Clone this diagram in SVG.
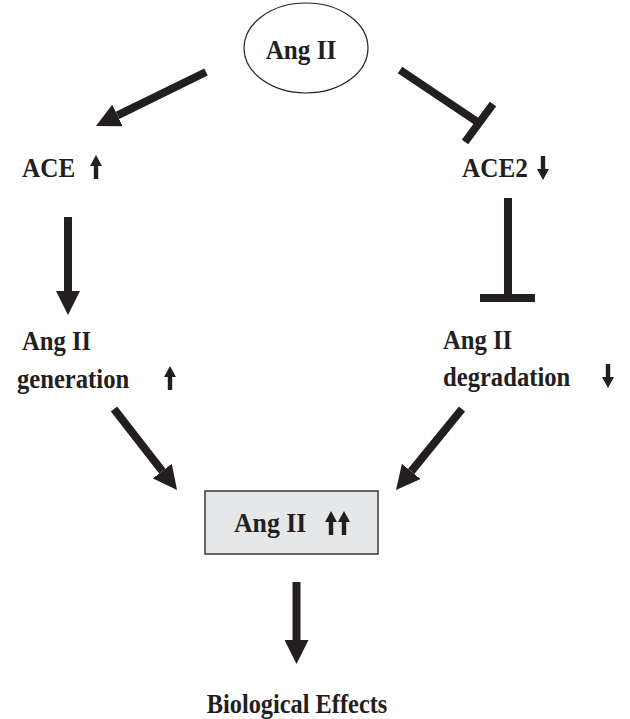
<svg xmlns="http://www.w3.org/2000/svg" width="630" height="719" viewBox="0 0 630 719">
<style>
text{font-family:"Liberation Serif","Times New Roman",serif;font-weight:bold;font-size:28px;fill:#231f20}
.shaft{stroke:#231f20;stroke-width:8;fill:none}
.ind{fill:#231f20}
</style>
<defs>
<marker id="ah" markerUnits="userSpaceOnUse" markerWidth="24" markerHeight="24" refX="0" refY="12" orient="auto">
<path d="M0,0 L24,12 L0,24 z" fill="#231f20"/>
</marker>
<path id="up" d="M0,0 L6,11 L2.2,11 L2.2,24 L-2.2,24 L-2.2,11 L-6,11 z"/>
</defs>
<g id="connectors">
<line class="shaft" x1="206" y1="72" x2="117.5" y2="115.4" marker-end="url(#ah)"/>
<line class="shaft" x1="400" y1="70" x2="479" y2="123"/>
<line class="shaft" x1="465" y1="142" x2="493" y2="104"/>
<line class="shaft" x1="68" y1="217" x2="68" y2="291" marker-end="url(#ah)"/>
<line class="shaft" x1="508" y1="198" x2="508" y2="298"/>
<line class="shaft" x1="480" y1="298" x2="535" y2="298"/>
<line class="shaft" x1="114" y1="409" x2="162.3" y2="471.1" marker-end="url(#ah)"/>
<line class="shaft" x1="462" y1="409" x2="411.2" y2="471.4" marker-end="url(#ah)"/>
<line class="shaft" x1="296.5" y1="582" x2="296.5" y2="640" marker-end="url(#ah)"/>
</g>
<g id="angii-top">
<ellipse cx="306" cy="48" rx="62" ry="45" fill="#fff" stroke="#231f20" stroke-width="1.2"/>
<text transform="translate(301,59) scale(0.9,1)" text-anchor="middle" font-size="30">Ang II</text>
</g>
<g id="ace">
<text transform="translate(22,177) scale(0.9,1)">ACE</text>
<use href="#up" class="ind" transform="translate(96,155)"/>
</g>
<g id="ace2">
<text transform="translate(462,177) scale(0.9,1)">ACE2</text>
<use href="#up" class="ind" transform="translate(543,180) scale(1,-1)"/>
</g>
<g id="angii-generation">
<text transform="translate(22,350) scale(0.88,1)">Ang II</text>
<text transform="translate(17,388) scale(0.88,1)">generation</text>
<use href="#up" class="ind" transform="translate(170,366)"/>
</g>
<g id="angii-degradation">
<text transform="translate(443,349) scale(0.88,1)">Ang II</text>
<text transform="translate(443,386) scale(0.88,1)">degradation</text>
<use href="#up" class="ind" transform="translate(608,388) scale(1,-1)"/>
</g>
<g id="angii-box">
<rect x="205" y="491" width="173" height="63" fill="#e6e7e8" stroke="#3a3a3a" stroke-width="1.5"/>
<text transform="translate(234,532) scale(0.92,1)">Ang II</text>
<use href="#up" class="ind" transform="translate(331,511)"/>
<use href="#up" class="ind" transform="translate(344,511)"/>
</g>
<g id="biological-effects">
<text transform="translate(297,713) scale(0.87,1)" text-anchor="middle">Biological Effects</text>
</g>
</svg>
